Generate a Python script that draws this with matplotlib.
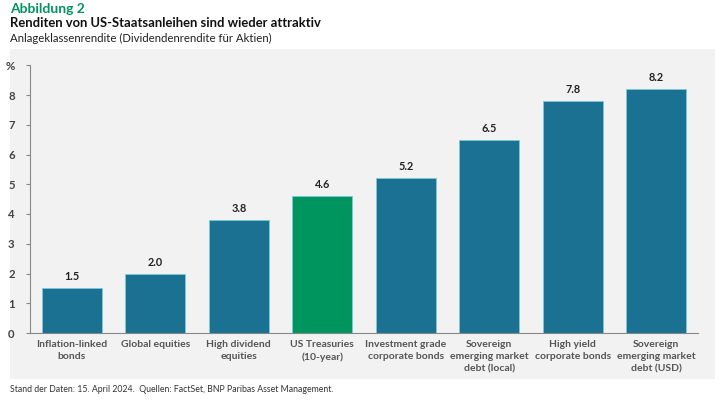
import matplotlib
matplotlib.use("Agg")
import matplotlib.pyplot as plt
from matplotlib.patches import Rectangle

categories = ["Inflation-linked\nbonds", "Global equities", "High dividend\nequities",
              "US Treasuries\n(10-year)", "Investment grade\ncorporate bonds",
              "Sovereign\nemerging market\ndebt (local)", "High yield\ncorporate bonds",
              "Sovereign\nemerging market\ndebt (USD)"]
values = [1.5, 2.0, 3.8, 4.6, 5.2, 6.5, 7.8, 8.2]
labels = ["1.5", "2.0", "3.8", "4.6", "5.2", "6.5", "7.8", "8.2"]
highlight = "US Treasuries\n(10-year)"
yticks = [0, 1, 2, 3, 4, 5, 6, 7, 8, 9]
yticklabels = ["0", "1", "2", "3", "4", "5", "6", "7", "8", "%"]

plt.rcParams['font.family'] = ['Lato', 'DejaVu Sans']

W, H = 725, 401
fig = plt.figure(figsize=(W/100, H/100), dpi=100)
fig.patch.set_facecolor("white")

fig.patches.append(Rectangle((10/W, 1-379/H), (715-10)/W, (379-49)/H,
                             transform=fig.transFigure, facecolor="#f2f2f2",
                             edgecolor="none", zorder=-10))

ax = fig.add_axes([30/W, 1-333/H, (698-30)/W, (333-65.25)/H])
ax.set_zorder(1)
ax.set_facecolor("none")

blue = "#1a7191"
green = "#00945f"
colors = [green if c == highlight else blue for c in categories]
x = list(range(len(categories)))
ax.bar(x, values, width=0.72, color=colors, edgecolor="#7cc8dc", linewidth=0.6, zorder=2)
for xi, v, l in zip(x, values, labels):
    ax.text(xi, v + 0.2, l, ha="center", va="bottom", fontsize=7.8, fontweight="bold", color="#222222")

ax.set_xlim(-0.5, 7.5)
ax.set_ylim(0, 9)
ax.set_yticks(yticks)
ax.set_yticklabels(yticklabels)
ax.set_xticks(x)
ax.set_xticklabels(categories, fontsize=7.45, fontweight="bold", color="#555555", linespacing=1.45)
ax.tick_params(axis="x", length=0, pad=5)
ax.tick_params(axis="y", length=3, width=0.8, color="#888888", labelsize=8.2, labelcolor="#444444", pad=8)
for lab in ax.get_yticklabels():
    lab.set_fontweight("bold")
for s in ["top", "right"]:
    ax.spines[s].set_visible(False)
ax.spines["left"].set_color("#888888")
ax.spines["bottom"].set_color("#888888")
ax.spines["left"].set_linewidth(0.8)
ax.spines["bottom"].set_linewidth(0.8)

fig.text(10/W, 1-9/H, "Abbildung 2", fontsize=10, fontweight="bold", color="#00945f", va="center", ha="left")
fig.text(10/W, 1-23/H, "Renditen von US-Staatsanleihen sind wieder attraktiv", fontsize=9.4, fontweight="bold", color="#111111", va="center", ha="left")
fig.text(10/W, 1-38/H, "Anlageklassenrendite (Dividendenrendite für Aktien)", fontsize=8.2, color="#222222", va="center", ha="left")
fig.text(10/W, 1-390/H, "Stand der Daten: 15. April 2024.  Quellen: FactSet, BNP Paribas Asset Management.", fontsize=6.3, color="#333333", va="center", ha="left")

fig.savefig("out.png", dpi=100, facecolor="white")
